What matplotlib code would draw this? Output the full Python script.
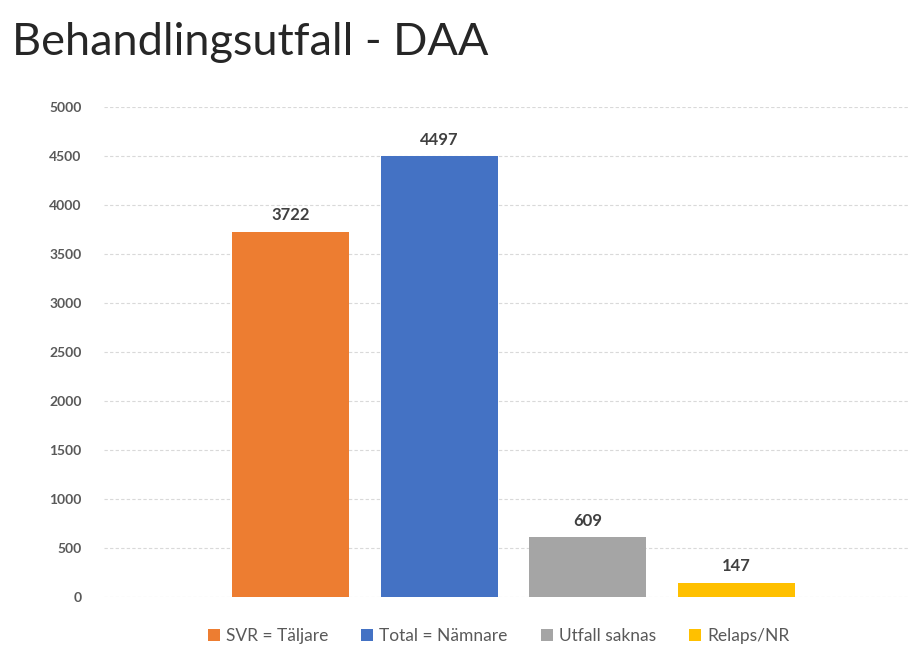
import matplotlib
matplotlib.use("Agg")
import matplotlib.pyplot as plt

plt.rcParams['font.family'] = ['Lato', 'DejaVu Sans']

# bar data
labels = ["SVR = Täljare", "Total = Nämnare", "Utfall saknas", "Relaps/NR"]
values = [3722, 4497, 609, 147]
colors = ["#ED7D31", "#4472C4", "#A5A5A5", "#FFC000"]
yticks = [0, 500, 1000, 1500, 2000, 2500, 3000, 3500, 4000, 4500, 5000]

fig = plt.figure(figsize=(9.1, 6.5), dpi=100)
ax = fig.add_axes([0.114, 0.0815, 0.886, 0.7538])

pos = [1, 2, 3, 4]
bars = []
for p, v, c, l in zip(pos, values, colors, labels):
    b = ax.bar(p, v, width=0.79, color=c, label=l, zorder=3)
    bars.append(b)
    ax.text(p, v + 90, str(v), ha='center', va='bottom', fontsize=12,
            fontweight='bold', color='#404040')

ax.set_xlim(-0.26, 5.17)
ax.set_ylim(0, 5000)
ax.set_yticks(yticks)
ax.set_yticklabels([str(t) for t in yticks], fontsize=10, color='#595959', fontweight='bold')
ax.set_xticks([])
ax.tick_params(axis='y', length=0, pad=16)
ax.grid(axis='y', color='#D9D9D9', linestyle=(0, (3, 2)), linewidth=0.8, zorder=0)
for s in ax.spines.values():
    s.set_visible(False)

fig.text(0.013, 0.915, "Behandlingsutfall - DAA", fontsize=32.5, color='#262626',
         fontweight='normal', ha='left', va='baseline')

fig.legend(handles=[b[0] for b in bars], labels=labels, loc='center',
           bbox_to_anchor=(0.548, 0.022), ncol=4, frameon=False, fontsize=12.5,
           handlelength=0.7, handleheight=0.7, handletextpad=0.35,
           columnspacing=1.9, labelcolor='#595959')

fig.savefig("out.png", dpi=100)
